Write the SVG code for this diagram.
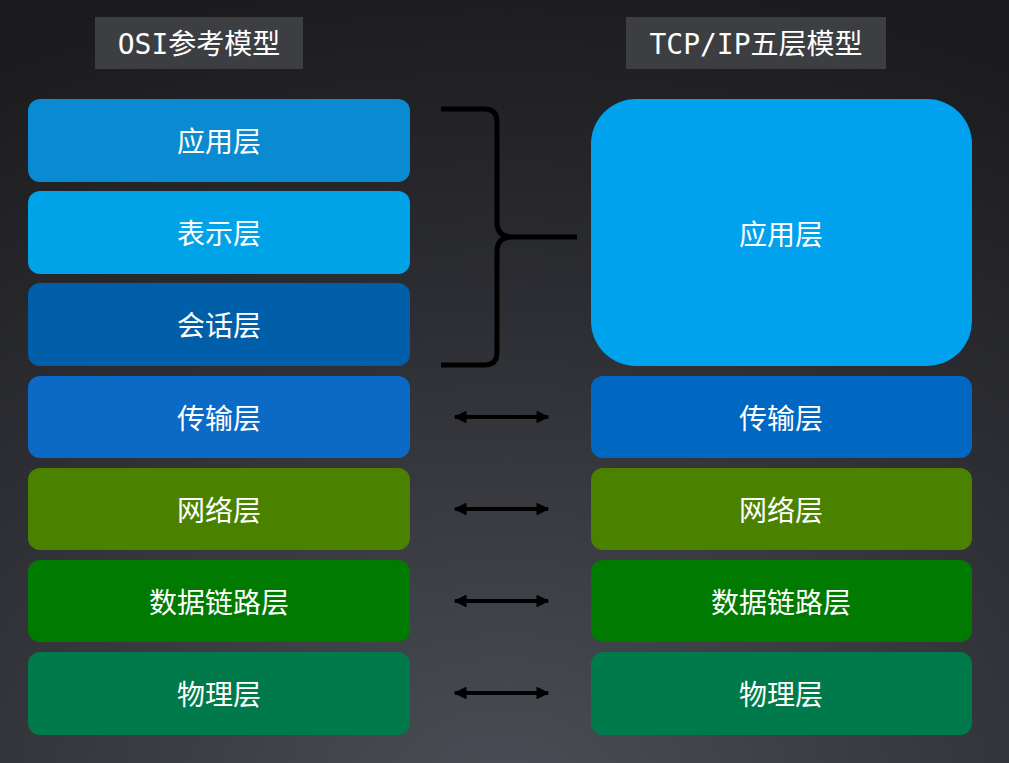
<svg xmlns="http://www.w3.org/2000/svg" width="1009" height="763" viewBox="0 0 1009 763">
<defs>
<radialGradient id="bg" cx="0.5" cy="1.05" r="1.1">
<stop offset="0" stop-color="#4b4e56"/><stop offset="0.6" stop-color="#2c2d32"/><stop offset="1" stop-color="#1b1b1d"/>
</radialGradient>
<marker id="ah" viewBox="0 0 10 10" refX="9" refY="5" markerWidth="3.2" markerHeight="3.2" orient="auto-start-reverse"><path d="M0,0L10,5L0,10z" fill="#000"/></marker>
</defs>
<style>
.t{font-family:"Noto Sans CJK SC","Liberation Sans",sans-serif;font-size:28px;fill:#fff;text-anchor:middle;dominant-baseline:central}
.h{font-family:"DejaVu Sans Mono","Noto Sans CJK SC",monospace;font-size:28px;fill:#fff;text-anchor:middle;dominant-baseline:central}
.a{stroke:#000;stroke-width:4;marker-start:url(#ah);marker-end:url(#ah)}
</style>
<rect width="1009" height="763" fill="url(#bg)"/>
<g id="title-osi"><rect x="95" y="17" width="208" height="52" fill="#3d3e42"/><text class="h" x="199" y="44">OSI参考模型</text></g>
<g id="title-tcp"><rect x="626" y="17" width="260" height="52" fill="#3d3e42"/><text class="h" x="756" y="44">TCP/IP五层模型</text></g>
<g id="osi-app"><rect x="28" y="99" width="382" height="83" rx="12" fill="#0a8ad0"/><text class="t" x="219" y="140">应用层</text></g>
<g id="osi-pres"><rect x="28" y="191" width="382" height="83" rx="12" fill="#00a2e8"/><text class="t" x="219" y="232">表示层</text></g>
<g id="osi-sess"><rect x="28" y="283" width="382" height="83" rx="12" fill="#005fa8"/><text class="t" x="219" y="324">会话层</text></g>
<g id="osi-trans"><rect x="28" y="376" width="382" height="82" rx="12" fill="#0a6ac6"/><text class="t" x="219" y="417">传输层</text></g>
<g id="osi-net"><rect x="28" y="468" width="382" height="82" rx="12" fill="#4a8200"/><text class="t" x="219" y="509">网络层</text></g>
<g id="osi-link"><rect x="28" y="560" width="382" height="82" rx="12" fill="#007a00"/><text class="t" x="219" y="601">数据链路层</text></g>
<g id="osi-phy"><rect x="28" y="652" width="382" height="83" rx="12" fill="#007a4a"/><text class="t" x="219" y="693">物理层</text></g>
<g id="tcp-app"><rect x="591" y="99" width="381" height="267" rx="45" fill="#00a2ee"/><text class="t" x="781" y="233">应用层</text></g>
<g id="tcp-trans"><rect x="591" y="376" width="381" height="82" rx="12" fill="#0068c2"/><text class="t" x="781" y="417">传输层</text></g>
<g id="tcp-net"><rect x="591" y="468" width="381" height="82" rx="12" fill="#4a8200"/><text class="t" x="781" y="509">网络层</text></g>
<g id="tcp-link"><rect x="591" y="560" width="381" height="82" rx="12" fill="#007a00"/><text class="t" x="781" y="601">数据链路层</text></g>
<g id="tcp-phy"><rect x="591" y="652" width="381" height="83" rx="12" fill="#007a4a"/><text class="t" x="781" y="693">物理层</text></g>
<g id="connectors">
<path d="M441,109 L485,109 Q497,109 497,122 L497,222 Q497,237 512,237 L577,237 M512,237 Q497,237 497,252 L497,352 Q497,365 485,365 L441,365" fill="none" stroke="#000" stroke-width="5"/>
<line class="a" x1="455" y1="417" x2="548" y2="417"/>
<line class="a" x1="455" y1="509" x2="548" y2="509"/>
<line class="a" x1="455" y1="601" x2="548" y2="601"/>
<line class="a" x1="455" y1="693" x2="548" y2="693"/>
</g>
</svg>
